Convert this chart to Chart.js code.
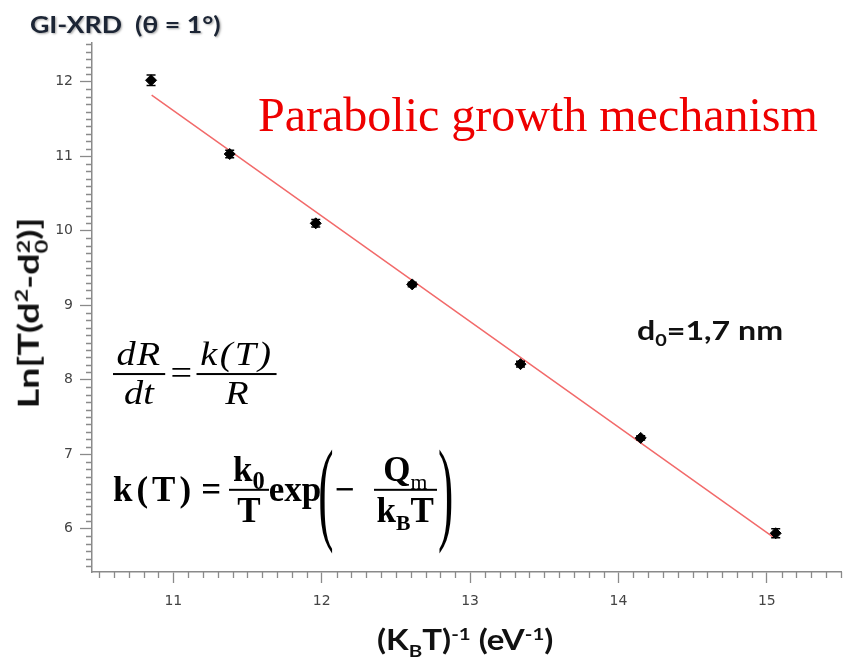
<!DOCTYPE html>
<html>
<head>
<meta charset="utf-8">
<script src="https://cdn.jsdelivr.net/npm/chart.js@4"></script>
<style>
html,body{margin:0;padding:0;background:#fff;}
#wrap{position:relative;width:851px;height:659px;overflow:hidden;}
#chart{position:absolute;left:0;top:0;}
.t{position:absolute;white-space:nowrap;line-height:1;}
.sans{font-family:Lato,"Open Sans",sans-serif;font-weight:700;color:#111;transform-origin:0 50%;}
#title{left:30px;top:13px;font-size:23px;color:#1c2535;text-shadow:1px 1px 2px rgba(0,0,0,.35);transform:scaleX(1.16);}
#headline{left:258px;top:87px;font:48px "Liberation Serif",serif;color:#ee0000;}
#d0{left:637px;top:316px;font-size:27px;transform:scaleX(1.19);}
#xtitle{left:377px;top:625px;font-size:28px;transform:scaleX(1.18);}
#ytitle{left:31px;top:313px;font-size:29px;transform-origin:50% 50%;transform:translate(-50%,-50%) rotate(-90deg) scaleX(1.3);}
sub,sup{font-size:62%;line-height:0;}
.stk{display:inline-flex;flex-direction:column;vertical-align:middle;font-size:62%;line-height:1;}
.eq{position:absolute;display:flex;align-items:center;white-space:nowrap;font-family:"Liberation Serif",serif;color:#000;}
.fr{display:inline-flex;flex-direction:column;align-items:stretch;}
.fr>span{display:block;text-align:center;line-height:1.12;padding:0 3px;}
.fr>.den{border-top:2px solid #000;}
#eq1{left:113px;top:374px;font-size:33px;font-style:italic;transform-origin:0 50%;transform:translateY(-50%) scaleX(1.16);}
#eq2{left:113px;top:490px;font-size:35px;font-weight:700;transform:translateY(-50%);}
.par{display:inline-block;font-weight:400;font-size:46px;transform:scaleY(2.5);}
</style>
</head>
<body>
<div id="wrap">
<canvas id="chart" width="851" height="659"></canvas>
<div class="t sans" id="title">GI-XRD&nbsp; (θ = 1°)</div>
<div class="t" id="headline">Parabolic growth mechanism</div>
<div class="t sans" id="d0">d<sub>0</sub>=1,7 nm</div>
<div class="t sans" id="xtitle">(K<sub>B</sub>T)<sup>-1</sup> (eV<sup>-1</sup>)</div>
<div class="t sans" id="ytitle">Ln[T(d<sup>2</sup>-d<span class="stk"><span>2</span><span>0</span></span>)]</div>
<div class="eq" id="eq1">
  <span class="fr"><span style="letter-spacing:1px">dR</span><span class="den">dt</span></span>
  <span style="font-style:normal;margin:0 4px 0 5px">=</span>
  <span class="fr"><span style="letter-spacing:2px">k(T)</span><span class="den">R</span></span>
</div>
<div class="eq" id="eq2">
  <span style="letter-spacing:4px">k(T)</span>
  <span style="margin:0 8px 0 6px">=</span>
  <span class="fr"><span style="padding:0 4px">k<sub style="font-size:70%">0</sub></span><span class="den">T</span></span>
  <span style="margin-right:-3px">exp</span>
  <span class="par">(</span>
  <span style="margin:0 19px 0 1px">−</span>
  <span class="fr"><span>Q<sub style="font-weight:400">m</sub></span><span class="den">k<sub>B</sub>T</span></span>
  <span class="par" style="margin-left:1px">)</span>
</div>
</div>
<script>
// tick positions on both axes
const xTicks = [11, 12, 13, 14, 15];
const yTicks = [6, 7, 8, 9, 10, 11, 12];

// measured points: (K_B T)^-1 vs Ln[T(d^2-d0^2)] with error
const invKT = [10.85, 11.38, 11.96, 12.61, 13.34, 14.15, 15.06];
const lnVal = [12.02, 11.03, 10.10, 9.28, 8.21, 7.22, 5.94];
const lnErr = [0.07, 0.05, 0.05, 0.03, 0.04, 0.03, 0.06];

// linear fit end points
const fitX = [10.854, 15.041];
const fitY = [11.82, 5.89];

const AXIS = "#8a8a8a";

const errorBars = {
  id: "errorBars",
  afterDatasetsDraw(chart){
    const ctx = chart.ctx, xs = chart.scales.x, ys = chart.scales.y;
    ctx.save();
    ctx.strokeStyle = "#000";
    ctx.lineWidth = 1.5;
    invKT.forEach((x, i) => {
      const px = xs.getPixelForValue(x);
      const top = ys.getPixelForValue(lnVal[i] + lnErr[i]);
      const bot = ys.getPixelForValue(lnVal[i] - lnErr[i]);
      ctx.beginPath();
      ctx.moveTo(px, top); ctx.lineTo(px, bot);
      ctx.moveTo(px - 4.5, top); ctx.lineTo(px + 4.5, top);
      ctx.moveTo(px - 4.5, bot); ctx.lineTo(px + 4.5, bot);
      ctx.stroke();
    });
    ctx.restore();
  }
};

const minorTicks = {
  id: "minorTicks",
  afterDraw(chart){
    const ctx = chart.ctx, xs = chart.scales.x, ys = chart.scales.y;
    const a = chart.chartArea;
    ctx.save();
    ctx.strokeStyle = AXIS;
    ctx.lineWidth = 1.3;
    ctx.beginPath();
    for (let i = Math.ceil(xs.min * 10); i <= Math.floor(xs.max * 10); i++){
      if (i % 10 === 0) continue;
      const px = Math.round(xs.getPixelForValue(i / 10)) + 0.5;
      ctx.moveTo(px, a.bottom); ctx.lineTo(px, a.bottom + 6);
    }
    for (let i = Math.ceil(ys.min * 10); i <= Math.floor(ys.max * 10); i++){
      if (i % 10 === 0) continue;
      const py = Math.round(ys.getPixelForValue(i / 10)) + 0.5;
      ctx.moveTo(a.left - 6, py); ctx.lineTo(a.left, py);
    }
    ctx.stroke();
    ctx.restore();
  }
};

new Chart(document.getElementById("chart"), {
  type: "scatter",
  data: {
    datasets: [
      {
        type: "line",
        data: fitX.map((x, i) => ({ x, y: fitY[i] })),
        borderColor: "#f26a6a",
        borderWidth: 1.5,
        pointRadius: 0,
        order: 2
      },
      {
        data: invKT.map((x, i) => ({ x, y: lnVal[i] })),
        pointStyle: "rectRot",
        pointRadius: 5.5,
        backgroundColor: "#000",
        borderColor: "#000",
        borderWidth: 1,
        order: 1
      }
    ]
  },
  options: {
    responsive: false,
    devicePixelRatio: 1,
    animation: false,
    layout: { padding: { top: 43, right: 10, left: 0, bottom: 0 } },
    plugins: { legend: { display: false }, tooltip: { enabled: false } },
    scales: {
      x: {
        type: "linear",
        min: 10.452, max: 15.50,
        afterBuildTicks: s => { s.ticks = xTicks.map(v => ({ value: v })); },
        afterFit: s => { s.height = 87; },
        border: { color: AXIS, width: 1.5 },
        grid: { drawOnChartArea: false, tickLength: 11, tickColor: AXIS, tickWidth: 1.3 },
        ticks: { color: "#444", padding: 10, font: { family: "DejaVu Sans", size: 14 } }
      },
      y: {
        type: "linear",
        min: 5.42, max: 12.52,
        afterBuildTicks: s => { s.ticks = yTicks.map(v => ({ value: v })); },
        afterFit: s => { s.width = 92; },
        border: { color: AXIS, width: 1.5 },
        grid: { drawOnChartArea: false, tickLength: 12, tickColor: AXIS, tickWidth: 1.3 },
        ticks: { color: "#444", padding: 7, font: { family: "DejaVu Sans", size: 14 } }
      }
    }
  },
  plugins: [errorBars, minorTicks]
});
</script>
</body>
</html>
